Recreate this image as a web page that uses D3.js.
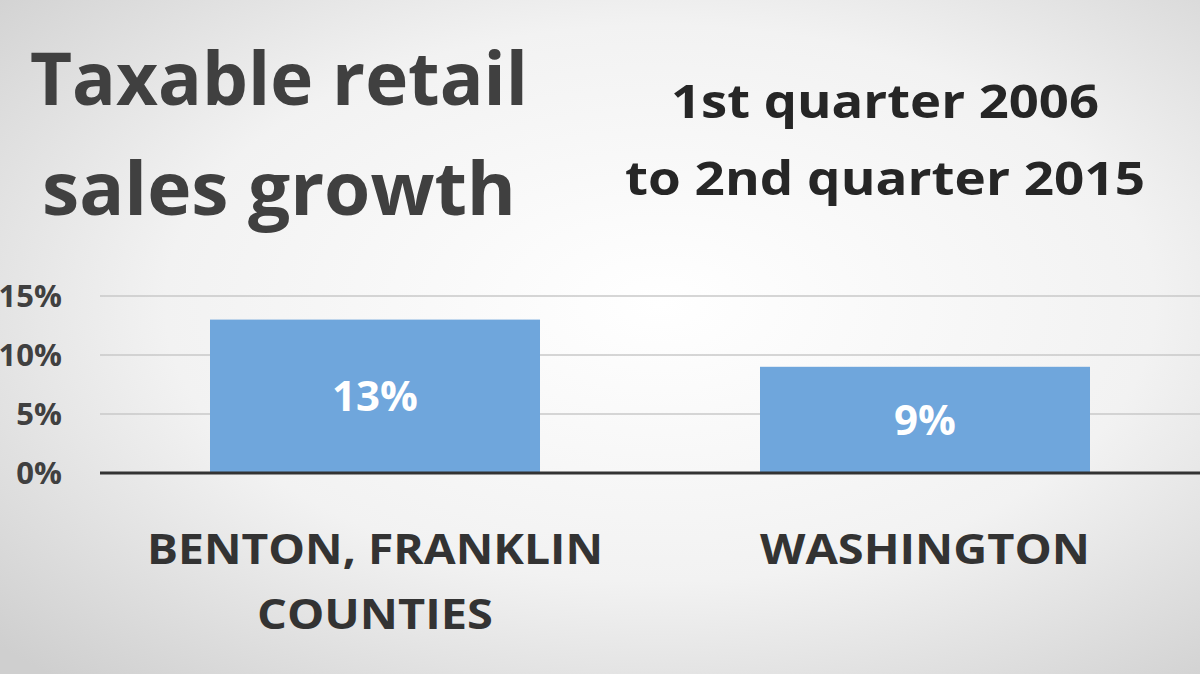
<!DOCTYPE html>
<html><head><meta charset="utf-8">
<script src="https://cdn.jsdelivr.net/npm/d3@7"></script>
<style>body{margin:0;overflow:hidden}svg{display:block}</style>
</head><body>
<script>
var categories = [["BENTON, FRANKLIN", "COUNTIES"], ["WASHINGTON"]];
var catWidths = [[456, 236], [330]];
var growth = [13, 9];
var barLabels = ["13%", "9%"];
var yTicks = [0, 5, 10, 15];

var W = 1200, H = 674, font = "'Open Sans', Lato, sans-serif";
var svg = d3.select("body").append("svg").attr("width", W).attr("height", H);

var grad = svg.append("defs").append("radialGradient").attr("id", "bg")
    .attr("cx", "55%").attr("cy", "45%").attr("r", "75%");
grad.append("stop").attr("offset", "0%").attr("stop-color", "#ffffff");
grad.append("stop").attr("offset", "55%").attr("stop-color", "#f2f2f2");
grad.append("stop").attr("offset", "100%").attr("stop-color", "#cfcfcf");
svg.append("rect").attr("width", W).attr("height", H).attr("fill", "url(#bg)");

function bigText(t, xPos, yPos, size, len, anchor, col) {
  svg.append("text").attr("x", xPos).attr("y", yPos).attr("font-family", font)
    .attr("text-anchor", anchor).attr("font-weight", 700).attr("font-size", size)
    .attr("fill", col).attr("textLength", len).attr("lengthAdjust", "spacingAndGlyphs").text(t);
}
bigText("Taxable retail", 30, 105, 74, 498, "start", "#404040");
bigText("sales growth", 42, 215, 74, 474, "start", "#404040");
bigText("1st quarter 2006", 885, 118, 46, 428, "middle", "#262626");
bigText("to 2nd quarter 2015", 885, 195, 46, 520, "middle", "#262626");

var x = d3.scaleBand().domain(d3.range(growth.length)).range([100, 1200])
    .paddingInner(0.4).paddingOuter(0.2);
var y = d3.scaleLinear().domain([0, 15]).range([473, 296]);

svg.selectAll(".grid").data(yTicks.slice(1)).enter().append("line")
    .attr("x1", 100).attr("x2", 1200).attr("y1", d => y(d)).attr("y2", d => y(d))
    .attr("stroke", "#c8c8c8").attr("stroke-width", 1.5);

svg.selectAll(".tick").data(yTicks).enter().append("text")
    .attr("x", 62).attr("y", d => y(d) + 11).attr("text-anchor", "end")
    .attr("font-family", font).attr("font-weight", 700).attr("font-size", 31)
    .attr("fill", "#404040").text(d => d + "%");

svg.selectAll(".bar").data(growth).enter().append("rect")
    .attr("x", (d, i) => x(i)).attr("width", x.bandwidth())
    .attr("y", d => y(d)).attr("height", d => y(0) - y(d)).attr("fill", "#6fa6dc");

svg.selectAll(".lbl").data(growth).enter().append("text")
    .attr("x", (d, i) => x(i) + x.bandwidth() / 2).attr("y", d => (y(d) + y(0)) / 2 + 15)
    .attr("text-anchor", "middle").attr("font-family", font).attr("font-weight", 700)
    .attr("font-size", 42).attr("fill", "#ffffff").text((d, i) => barLabels[i]);

svg.append("line").attr("x1", 100).attr("x2", 1200).attr("y1", y(0)).attr("y2", y(0))
    .attr("stroke", "#333333").attr("stroke-width", 3);

categories.forEach(function(lines, i) {
  lines.forEach(function(t, j) {
    bigText(t, x(i) + x.bandwidth() / 2, 564 + j * 65, 42, catWidths[i][j], "middle", "#333333");
  });
});
</script>
</body></html>
